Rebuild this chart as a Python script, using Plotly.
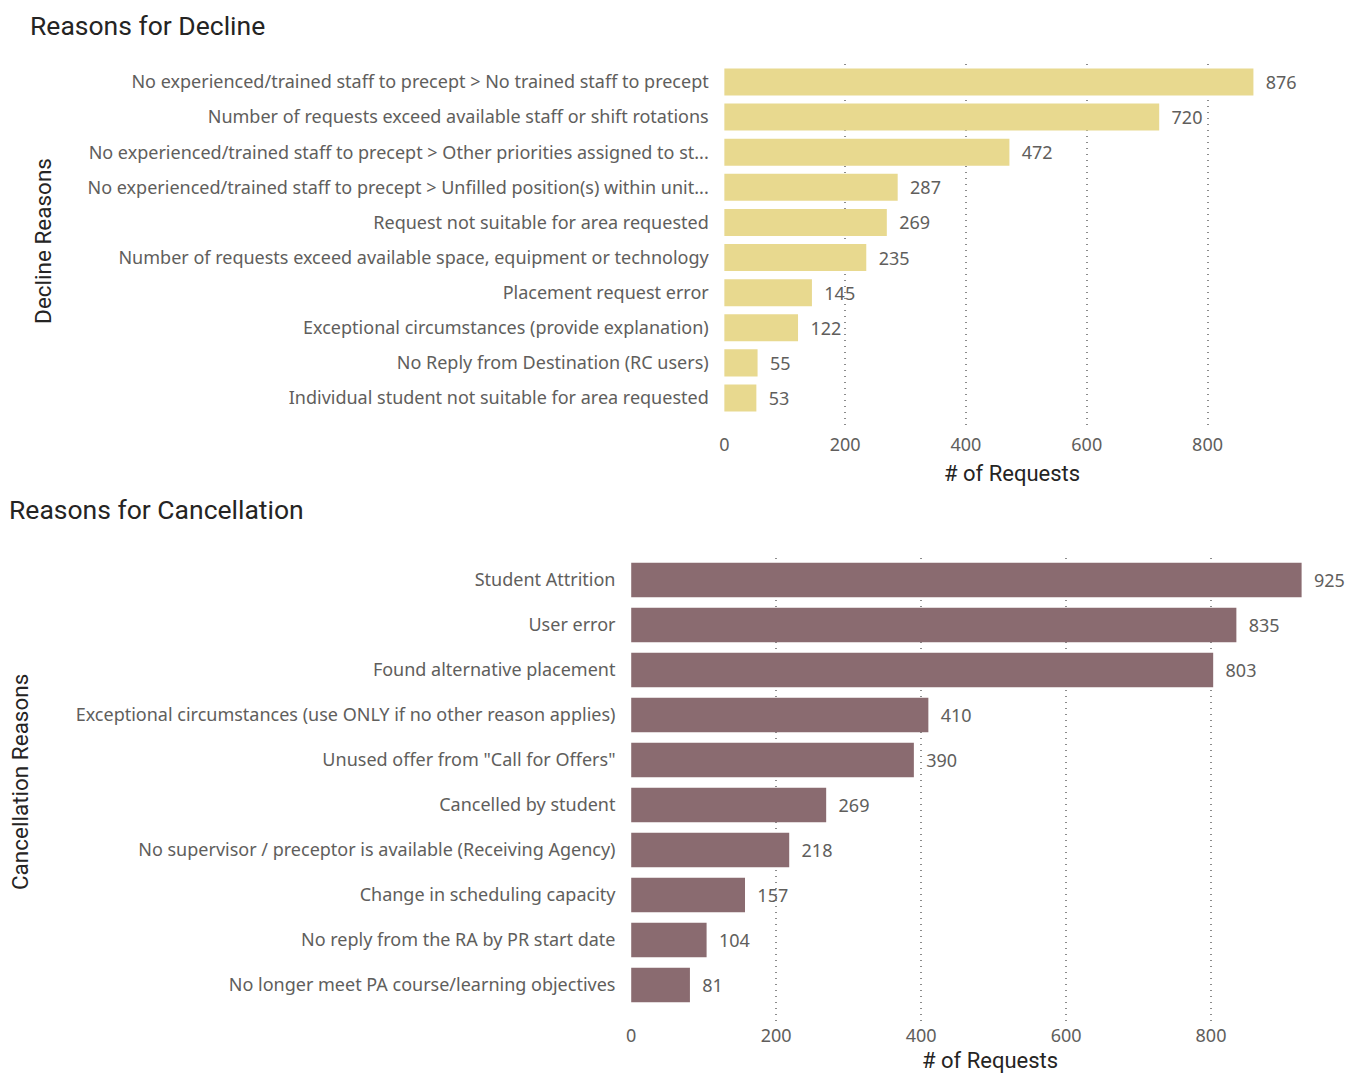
import plotly.graph_objects as go

decline_reasons = [
    "No experienced/trained staff to precept > No trained staff to precept",
    "Number of requests exceed available staff or shift rotations",
    "No experienced/trained staff to precept > Other priorities assigned to st...",
    "No experienced/trained staff to precept > Unfilled position(s) within unit...",
    "Request not suitable for area requested",
    "Number of requests exceed available space, equipment or technology",
    "Placement request error",
    "Exceptional circumstances (provide explanation)",
    "No Reply from Destination (RC users)",
    "Individual student not suitable for area requested",
]
decline_counts = [876, 720, 472, 287, 269, 235, 145, 122, 55, 53]

cancel_reasons = [
    "Student Attrition",
    "User error",
    "Found alternative placement",
    "Exceptional circumstances (use ONLY if no other reason applies)",
    "Unused offer from \"Call for Offers\"",
    "Cancelled by student",
    "No supervisor / preceptor is available (Receiving Agency)",
    "Change in scheduling capacity",
    "No reply from the RA by PR start date",
    "No longer meet PA course/learning objectives",
]
cancel_counts = [925, 835, 803, 410, 390, 269, 218, 157, 104, 81]

x_ticks = [0, 200, 400, 600, 800]

# page body has an 8px margin; figure sized to fit without scrollbars
OFF = 8
W, H = 1361 - 2 * OFF, 1081 - 2 * OFF
LABEL_FONT = "Noto Sans, Open Sans, sans-serif"
TITLE_FONT = "Roboto, sans-serif"
LABEL_COLOR = "#605E5C"
DARK = "#252423"
FS = 18


def px_x(p):
    return (p - OFF) / W


def px_y(p):
    return 1 - (p - OFF) / H


fig = go.Figure()

fig.add_trace(go.Bar(
    x=decline_counts, y=decline_reasons, orientation="h",
    marker=dict(color="#E8D98F", line=dict(width=0)), width=0.77,
    text=decline_counts, texttemplate="  %{text}", textposition="outside",
    textfont=dict(family=LABEL_FONT, size=FS, color=LABEL_COLOR),
    cliponaxis=False, xaxis="x", yaxis="y", hoverinfo="x+y",
))
fig.add_trace(go.Bar(
    x=cancel_counts, y=cancel_reasons, orientation="h",
    marker=dict(color="#8A6B70", line=dict(width=0)), width=0.77,
    text=cancel_counts, texttemplate="  %{text}", textposition="outside",
    textfont=dict(family=LABEL_FONT, size=FS, color=LABEL_COLOR),
    cliponaxis=False, xaxis="x2", yaxis="y2", hoverinfo="x+y",
))

grid = dict(showgrid=True, gridcolor="#8c8c8c", griddash="1px,5px", gridwidth=1.5,
            zeroline=False, showline=False,
            tickvals=x_ticks, ticks="", ticklabelstandoff=2,
            tickfont=dict(family=LABEL_FONT, size=FS, color=LABEL_COLOR))

ycat = dict(showgrid=False, ticks="", ticklabelstandoff=14, zeroline=False,
            tickfont=dict(family=LABEL_FONT, size=FS, color=LABEL_COLOR))

fig.update_layout(
    width=W, height=H,
    margin=dict(l=0, r=0, t=0, b=0),
    paper_bgcolor="white", plot_bgcolor="white",
    showlegend=False,
    xaxis=dict(domain=[px_x(721.4), px_x(1267.6)], range=[-1, 900], anchor="y", **grid),
    yaxis=dict(domain=[px_y(429.6), px_y(64.4)], anchor="x", range=[9.9, -0.5], **ycat),
    xaxis2=dict(domain=[px_x(627.8), px_x(1319.6)], range=[-1, 950], anchor="y2", **grid),
    yaxis2=dict(domain=[px_y(1021), px_y(557.5)], anchor="x2", range=[9.8, -0.5], **ycat),
)

annotations = [
    dict(text="Reasons for Decline", x=px_x(23), y=1, xanchor="left", yanchor="top",
         font=dict(family=TITLE_FONT, size=26.5, color=DARK)),
    dict(text="Reasons for Cancellation", x=-6 / W, y=px_y(510), xanchor="left", yanchor="middle",
         font=dict(family=TITLE_FONT, size=26.5, color=DARK)),
    dict(text="Decline Reasons", x=px_x(38), y=px_y(241), xanchor="center", yanchor="middle",
         textangle=-90, font=dict(family=TITLE_FONT, size=22.5, color=DARK)),
    dict(text="Cancellation Reasons", x=-8 / W, y=px_y(782), xanchor="left", yanchor="middle",
         textangle=-90, font=dict(family=TITLE_FONT, size=22.5, color=DARK)),
    dict(text="# of Requests", x=px_x(1011), y=px_y(473), xanchor="center", yanchor="middle",
         font=dict(family=TITLE_FONT, size=22, color=DARK)),
    dict(text="# of Requests", x=px_x(989), y=px_y(1060), xanchor="center", yanchor="middle",
         font=dict(family=TITLE_FONT, size=22, color=DARK)),
]
for a in annotations:
    a.update(xref="paper", yref="paper", showarrow=False)
fig.update_layout(annotations=annotations)

fig.write_html("out.html")
